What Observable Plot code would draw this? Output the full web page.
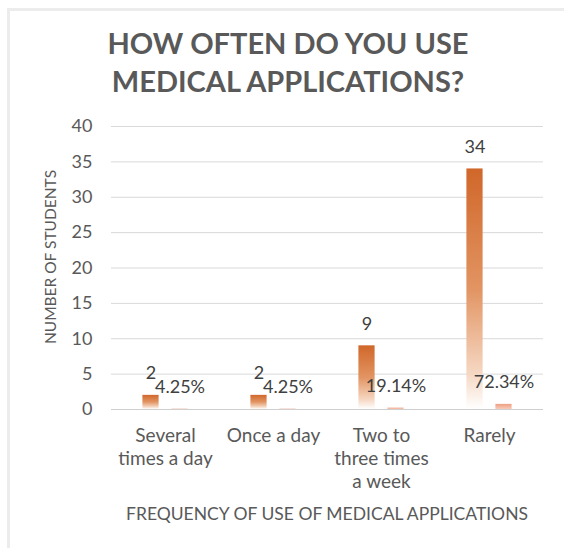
<!DOCTYPE html>
<html>
<head>
<meta charset="utf-8">
<script src="https://cdn.jsdelivr.net/npm/d3@7"></script>
<script src="https://cdn.jsdelivr.net/npm/@observablehq/plot@0.6"></script>
<style>
  body { margin: 0; background: #ffffff; }
  #wrap { position: relative; width: 564px; height: 548px; overflow: hidden; font-family: Lato, "Open Sans", sans-serif; color: #595959; }
  #frame { position: absolute; left: 7px; top: 8px; right: -4px; bottom: -4px; border-left: 3px solid #ececec; border-top: 3px solid #ececec; }
  #title { position: absolute; left: 0; width: 576px; top: 24px; text-align: center; font-weight: 700; font-size: 29px; line-height: 38px; color: #595959; }
  #chart { position: absolute; left: 0; top: 110px; }
  #xtitle { position: absolute; left: 110px; width: 434px; top: 504px; text-align: center; font-size: 17.5px; line-height: 20px; color: #595959; white-space: nowrap; }
  #ytitle { position: absolute; left: -100px; width: 300px; top: 247px; height: 20px; text-align: center; font-size: 15.5px; line-height: 20px; color: #595959; transform: rotate(-90deg); white-space: nowrap; }
</style>
</head>
<body>
<div id="wrap">
  <div id="frame"></div>
  <div id="title">HOW OFTEN DO YOU USE<br>MEDICAL APPLICATIONS?</div>
  <div id="chart"></div>
  <div id="ytitle">NUMBER OF STUDENTS</div>
  <div id="xtitle">FREQUENCY OF USE OF MEDICAL APPLICATIONS</div>
</div>
<script>
const categories = ["Several\ntimes a day", "Once a day", "Two to\nthree times\na week", "Rarely"];
const counts = [2, 2, 9, 34];
const percents = [4.25, 4.25, 19.14, 72.34];
const percentLabels = ["4.25%", "4.25%", "19.14%", "72.34%"];
const yTicks = [0, 5, 10, 15, 20, 25, 30, 35, 40];
const seriesNames = ["Count", "Percent"];

const rows = categories.flatMap((c, i) => [
  {category: c, series: "Count", value: counts[i], label: String(counts[i])},
  {category: c, series: "Percent", value: percents[i] / 100, label: percentLabels[i]}
]);

const svg = Plot.plot({
  width: 564,
  height: 438,
  marginTop: 16,
  marginBottom: 139,
  marginLeft: 110,
  marginRight: 20,
  style: {fontFamily: "Lato, 'Open Sans', sans-serif", fontSize: "18px", color: "#595959", background: "transparent"},
  fx: {domain: categories, paddingInner: 0, paddingOuter: 0, axis: null, label: null},
  x: {domain: seriesNames, paddingInner: 0, paddingOuter: 0.84, axis: null, label: null},
  y: {domain: [0, 40], ticks: yTicks, tickSize: 0, tickPadding: 19, label: null},
  marks: [
    Plot.ruleY(yTicks.filter(t => t > 0), {stroke: "#d9d9d9", strokeWidth: 1}),
    Plot.barY(rows.filter(d => d.series === "Count"), {fx: "category", x: "series", y: "value", fill: "url(#gCount)", insetLeft: 6.4, insetRight: 6.4}),
    Plot.barY(rows.filter(d => d.series === "Percent"), {fx: "category", x: "series", y: "value", fill: "url(#gPct)", insetLeft: 6.4, insetRight: 6.4}),
    Plot.ruleY([0], {stroke: "#cfcfcf", strokeWidth: 1}),
    Plot.text(rows, {fx: "category", x: "series", y: "value", text: "label", dy: -22, fill: "#404040", fontSize: 18}),
    Plot.text(categories, {fx: d => d, text: d => d, frameAnchor: "bottom", lineAnchor: "top", dy: 16, fontSize: 19, lineHeight: 1.21, fill: "#595959"})
  ]
});

const defs = d3.select(svg).insert("defs", ":first-child");
const g1 = defs.append("linearGradient").attr("id", "gCount").attr("x1", 0).attr("y1", 0).attr("x2", 0).attr("y2", 1);
[[0, "#d0672a"], [0.5, "#e29462"], [0.85, "#f5d7c2"], [1, "#ffffff"]].forEach(([o, c]) => g1.append("stop").attr("offset", o).attr("stop-color", c));
const g2 = defs.append("linearGradient").attr("id", "gPct").attr("x1", 0).attr("y1", 0).attr("x2", 0).attr("y2", 1);
[[0, "#ee9f82"], [1, "#f8cbb9"]].forEach(([o, c]) => g2.append("stop").attr("offset", o).attr("stop-color", c));

document.getElementById("chart").appendChild(svg);
</script>
</body>
</html>
